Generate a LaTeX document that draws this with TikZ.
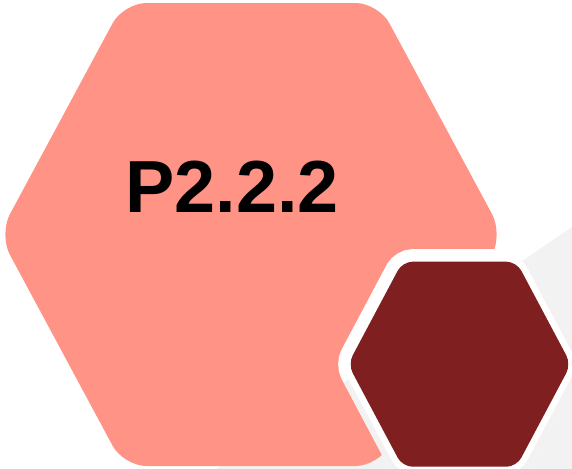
\documentclass[tikz,border=0pt]{standalone}
\usepackage{fontspec}
\setmainfont{Liberation Sans}
\definecolor{hexsalmon}{RGB}{255, 147, 133}
\definecolor{hexdark}{RGB}{127, 31, 32}
\definecolor{backgray}{RGB}{242, 242, 242}
\usetikzlibrary{positioning}

\begin{document}
\begin{tikzpicture}[x=0.02cm, y=-0.02cm]
  \useasboundingbox (0, 0) rectangle (572, 468);

  % Gray wedge in the corner
  \fill[backgray] (572, 227) -- (215, 470) -- (572, 470) -- cycle;

  % Big hexagon
  \fill[hexsalmon, rounded corners=0.46cm]
    (-1, 234.5) -- (123.5, 3) -- (378.5, 3) -- (503, 234.5) -- (378.5, 466) -- (123.5, 466) -- cycle;
  \node[font=\fontsize{42}{48}\selectfont\bfseries, anchor=base] (title) at (232, 212) {P2.2.2};

  % Small hexagon corners
  \coordinate (s1) at (348, 364.2);
  \coordinate (s2) at (402.5, 261.7);
  \coordinate (s3) at (516.5, 261.7);
  \coordinate (s4) at (571, 364.2);
  \coordinate (s5) at (516.5, 466.7);
  \coordinate (s6) at (402.5, 466.7);

  % Gap cut out of the big hexagon
  \draw[white, line width=0.5cm, rounded corners=0.2cm]
    (s1) -- (s2) -- (s3) -- (s4) -- (s5) -- (s6) -- cycle;
  \begin{scope}
    \clip (572, 227) -- (215, 470) -- (572, 470) -- cycle;
    \draw[backgray, line width=0.5cm, rounded corners=0.2cm]
      (s1) -- (s2) -- (s3) -- (s4) -- (s5) -- (s6) -- cycle;
  \end{scope}

  % White rim and small hexagon
  \draw[white, line width=0.26cm, rounded corners=0.2cm]
    (s1) -- (s2) -- (s3) -- (s4) -- (s5) -- (s6) -- cycle;
  \fill[hexdark, rounded corners=0.2cm]
    (s1) -- (s2) -- (s3) -- (s4) -- (s5) -- (s6) -- cycle;
\end{tikzpicture}
\end{document}
